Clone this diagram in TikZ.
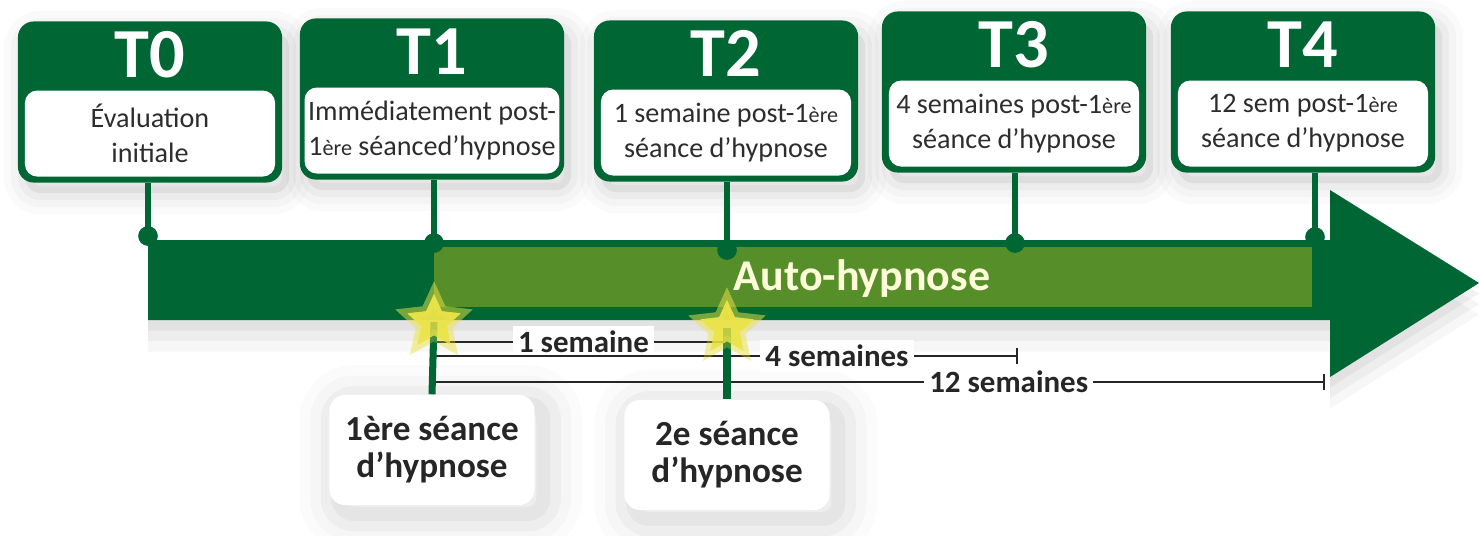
\documentclass[tikz,border=0pt]{standalone}
\usepackage{fontspec}
\setmainfont{Carlito}
\usetikzlibrary{positioning,shadows,shapes.geometric,arrows.meta}

\definecolor{darkgreen}{RGB}{0,102,51}
\definecolor{bandgreen}{RGB}{86,142,42}
\definecolor{stargold}{RGB}{236,228,72}
\definecolor{textgrey}{RGB}{45,45,45}

\newcommand{\smallere}{{\fontsize{6.3}{6}\selectfont ère}}

\tikzset{
  boxshadow/.style={
    preaction={draw=black, draw opacity=0.02, line width=12pt, transform canvas={xshift=2pt,yshift=-3pt}},
    preaction={draw=black, draw opacity=0.025, line width=8pt, transform canvas={xshift=2pt,yshift=-3pt}},
    preaction={draw=black, draw opacity=0.03, line width=4pt, transform canvas={xshift=2pt,yshift=-3pt}},
    preaction={fill=black, fill opacity=0.06, transform canvas={xshift=2pt,yshift=-3pt}}},
  tbox/.style={rectangle, rounded corners=4.5pt, fill=darkgreen,
    minimum width=2.64cm, minimum height=1.61cm, inner sep=0pt, boxshadow},
  tinner/.style={rectangle, rounded corners=3.5pt, fill=white,
    minimum width=2.50cm, minimum height=0.86cm, inner sep=1pt, align=center,
    text=textgrey, font=\fontsize{8}{10}\selectfont},
  tlabel/.style={inner sep=0pt, text=white, font=\bfseries\fontsize{20}{20}\selectfont},
  stem/.style={darkgreen, line width=1.8pt},
  dot/.style={fill=darkgreen},
  starmark/.style={star, star points=5, star point ratio=2.1, minimum size=0.56cm,
    inner sep=0pt, fill=stargold, fill opacity=0.8,
    preaction={draw=stargold, draw opacity=0.3, line width=3pt}},
  span/.style={black!85, line width=0.6pt},
  spanlabel/.style={fill=white, inner sep=1.5pt, text=black!85,
    font=\bfseries\fontsize{8.8}{8.8}\selectfont},
  sessbox/.style={rectangle, rounded corners=4.5pt, fill=white,
    minimum width=2.05cm, minimum height=1.10cm, align=center, inner sep=1pt,
    text=black!85, font=\bfseries\fontsize{10}{10.5}\selectfont,
    preaction={draw=black, draw opacity=0.015, line width=22pt, transform canvas={xshift=2.5pt,yshift=-2.5pt}},
    preaction={draw=black, draw opacity=0.02, line width=16pt, transform canvas={xshift=2.5pt,yshift=-2.5pt}},
    preaction={draw=black, draw opacity=0.03, line width=10pt, transform canvas={xshift=2.5pt,yshift=-2.5pt}},
    preaction={draw=black, draw opacity=0.04, line width=4pt, transform canvas={xshift=2.5pt,yshift=-2.5pt}}},
  autolabel/.style={text=yellow!15, font=\bfseries\fontsize{12.5}{12.5}\selectfont}
}

\begin{document}
\begin{tikzpicture}[x=0.01cm, y=-0.01cm]
  \useasboundingbox (0,0) rectangle (1479,535);

  % the arrow
  \path[fill=darkgreen,
    preaction={fill=black, fill opacity=0.05, transform canvas={yshift=-3pt}},
    preaction={fill=black, fill opacity=0.04, transform canvas={yshift=-6pt}},
    preaction={fill=black, fill opacity=0.03, transform canvas={yshift=-9pt}}]
    (148,240) -- (1330,240) -- (1330,190) -- (1479,283) -- (1330,377)
    -- (1330,320) -- (148,320) -- cycle;
  \fill[bandgreen] (434,247) rectangle (1312,307);
  \node[autolabel] (auto) at (862,279) {Auto-hypnose};

  % time points
  \coordinate (d0) at (148,236);
  \coordinate (d1) at (434,243);
  \coordinate (d2) at (727,250);
  \coordinate (d3) at (1015,243);
  \coordinate (d4) at (1315,237);

  \node[tbox] (t0) at (150,102) {};
  \node[tbox] (t1) at (432,99) {};
  \node[tbox] (t2) at (726,101) {};
  \node[tbox] (t3) at (1014,92) {};
  \node[tbox] (t4) at (1303,92) {};

  \draw[stem] (d0 |- t0.south) -- (d0);
  \draw[stem] (d1 |- t1.south) -- (d1);
  \draw[stem] (d2 |- t2.south) -- (d2);
  \draw[stem] (d3 |- t3.south) -- (d3);
  \draw[stem] (d4 |- t4.south) -- (d4);
  \fill[dot] (d0) circle (2.8pt);
  \fill[dot] (d1) circle (2.8pt);
  \fill[dot] (d2) circle (2.8pt);
  \fill[dot] (d3) circle (2.8pt);
  \fill[dot] (d4) circle (2.8pt);

  \node[tlabel, below=0.10cm of t0.north] (l0) {T0};
  \node[tlabel, below=0.10cm of t1.north] (l1) {T1};
  \node[tlabel, below=0.10cm of t2.north] (l2) {T2};
  \node[tlabel, below=0.10cm of t3.north] (l3) {T3};
  \node[tlabel, below=0.10cm of t4.north] (l4) {T4};

  \node[tinner, above=0.06cm of t0.south] (i0) {Évaluation\\initiale};
  \node[tinner, above=0.06cm of t1.south] (i1) {Immédiatement post-\\1\smallere{} séanced’hypnose};
  \node[tinner, above=0.06cm of t2.south] (i2) {1 semaine post-1\smallere\\séance d’hypnose};
  \node[tinner, above=0.06cm of t3.south] (i3) {4 semaines post-1\smallere\\séance d’hypnose};
  \node[tinner, above=0.06cm of t4.south] (i4) {12 sem post-1\smallere\\séance d’hypnose};

  % sessions
  \node[starmark] (star1) at (434,322) {};
  \node[starmark] (star2) at (727,328) {};
  \node[sessbox] (s1) at (432,450) {1ère séance\\d’hypnose};
  \node[sessbox] (s2) at (727,455) {2e séance\\d’hypnose};

  % spans
  \coordinate (w1) at (727,342);
  \coordinate (w4) at (1018,356);
  \coordinate (w12) at (1325,382);
  \draw[span] (star1 |- w1) -- (w1) node[spanlabel, pos=0.51] {1 semaine};
  \draw[span, -{Bar[width=4.5pt]}] (star1 |- w4) -- (w4) node[spanlabel, pos=0.69] {4 semaines};
  \draw[span, -{Bar[width=4.5pt]}] (star1 |- w12) -- (w12) node[spanlabel, pos=0.645] {12 semaines};

  \draw[stem, line width=2pt] (star1.center) -- (s1.north);
  \draw[stem, line width=2pt] (star2.center) -- (s2.north);
  \node[starmark] at (star1) {};
  \node[starmark] at (star2) {};
\end{tikzpicture}
\end{document}
